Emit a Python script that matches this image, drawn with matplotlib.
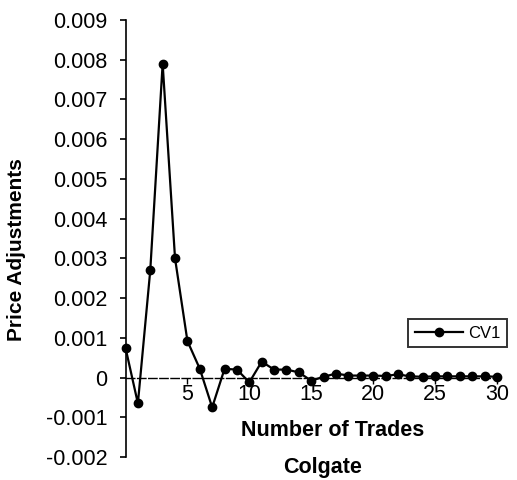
import matplotlib
matplotlib.use("Agg")
import matplotlib.pyplot as plt

trades = list(range(0, 31))
cv1 = [0.00075, -0.00065, 0.0027, 0.0079, 0.0030, 0.00092, 0.00022, -0.00075,
       0.00022, 0.00020, -0.00012, 0.00040, 0.00020, 0.00020, 0.00013, -0.00008,
       0.00002, 0.00010, 0.00005, 0.00005, 0.00005, 0.00004, 0.00008, 0.00003,
       0.00002, 0.00003, 0.00003, 0.00003, 0.00003, 0.00003, 0.00002]
x_ticks = [5, 10, 15, 20, 25, 30]
y_ticks = [-0.002, -0.001, 0, 0.001, 0.002, 0.003, 0.004, 0.005, 0.006, 0.007, 0.008, 0.009]
y_tick_labels = ["-0.002", "-0.001", "0", "0.001", "0.002", "0.003", "0.004",
                 "0.005", "0.006", "0.007", "0.008", "0.009"]
series_name = "CV1"
x_label = "Number of Trades"
y_label = "Price Adjustments"
title_below = "Colgate"

plt.rcParams['font.family'] = ['Liberation Sans', 'DejaVu Sans']

fig = plt.figure(figsize=(5.17, 4.8), dpi=100)
ax = fig.add_axes([125.5 / 517, 1 - 457 / 480, (497 - 125.5) / 517, (457 - 20) / 480])

ax.plot(trades, cv1, color='black', lw=1.6, marker='o', ms=6, clip_on=False,
        label=series_name, zorder=3)

ax.set_xlim(0, 30)
ax.set_ylim(-0.002, 0.009)

ax.spines['top'].set_visible(False)
ax.spines['right'].set_visible(False)
ax.spines['left'].set_linewidth(1.2)
ax.spines['bottom'].set_position(('data', 0))
ax.spines['bottom'].set_linewidth(1.0)
ax.spines['bottom'].set_linestyle((0, (6, 2)))

ax.set_yticks(y_ticks)
ax.set_yticklabels(y_tick_labels, fontsize=15.5)
ax.set_xticks(x_ticks)
ax.set_xticklabels([str(t) for t in x_ticks], fontsize=15.5)
ax.tick_params(axis='y', direction='out', length=4, width=1.2, pad=9)
ax.tick_params(axis='x', direction='out', length=4, width=1.0, pad=1)

fig.text(17 / 517, 1 - 250 / 480, y_label, rotation=90, ha='center', va='center',
         fontsize=15, fontweight='bold')
fig.text(333 / 517, 1 - 430 / 480, x_label, ha='center', va='center',
         fontsize=15.5, fontweight='bold')
fig.text(323 / 517, 1 - 467 / 480, title_below, ha='center', va='center',
         fontsize=15.5, fontweight='bold')

leg = ax.legend(loc='upper left', bbox_to_anchor=(408 / 517, 1 - 319 / 480),
                bbox_transform=fig.transFigure, frameon=True, fancybox=False,
                fontsize=12, handlelength=2.9, handletextpad=0.3,
                borderpad=0.4, borderaxespad=0)
leg.get_frame().set_edgecolor('black')
leg.get_frame().set_linewidth(1.4)

fig.savefig("out.png", dpi=100)
